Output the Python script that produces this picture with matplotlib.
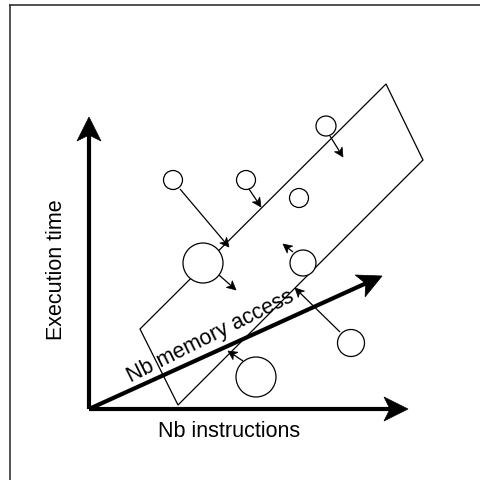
import numpy as np
import matplotlib.pyplot as plt
from matplotlib.patches import Circle, Polygon

# Diagram in pixel coordinates (y grows downward)
origin = (89, 410)
axis_tips = [(89, 118), (408, 410), (382, 277)]

# Rotated rectangle (cluster region)
rect_corners = [(140, 330), (386, 85), (423, 161), (178, 406)]

# Circles: centre x, centre y, radius
circle_x = [326, 173, 246, 299, 203, 303, 351, 256]
circle_y = [127, 181, 181, 199, 264, 264, 344, 378]
circle_r = [10, 9.5, 9.5, 9.5, 20, 13, 13.5, 20]

# Thin arrows: start -> end
arrow_start = [(330, 137), (180, 190), (249, 190), (219, 276), (293, 253), (340, 333), (243, 362)]
arrow_end = [(343, 158), (229, 248), (261, 208), (236, 291), (283, 245), (295, 289), (228, 352)]


def classic_arrow(ax, start, end, lw, head_len, head_w, notch, z):
    p0 = np.array(start, float)
    p1 = np.array(end, float)
    d = (p1 - p0) / np.linalg.norm(p1 - p0)
    n = np.array([-d[1], d[0]])
    back = p1 - d * head_len
    inner = p1 - d * (head_len - notch)
    ax.plot([p0[0], inner[0]], [p0[1], inner[1]], color='black', lw=lw,
            solid_capstyle='butt', zorder=z)
    head = [p1, back + n * head_w, inner, back - n * head_w]
    ax.add_patch(Polygon(head, closed=True, facecolor='black', edgecolor='black',
                         lw=0.5, zorder=z))


fig = plt.figure(figsize=(4.8, 4.81), dpi=100)
ax = fig.add_axes([0, 0, 1, 1])
ax.set_xlim(0, 480)
ax.set_ylim(481, 0)
ax.axis('off')

# frame lines (top and left only)
ax.plot([9.5, 480], [5.5, 5.5], color='#333333', lw=1.2)
ax.plot([9.5, 9.5], [5.5, 481], color='#333333', lw=1.2)

ax.add_patch(Polygon(rect_corners, closed=True, fill=False, edgecolor='black', lw=0.9, zorder=2))

for tip in axis_tips:
    classic_arrow(ax, origin, tip, 3, 24, 12, 6, 3)

for x, y, r in zip(circle_x, circle_y, circle_r):
    ax.add_patch(Circle((x, y), r, facecolor='white', edgecolor='black', lw=0.9, zorder=4))

for s, e in zip(arrow_start, arrow_end):
    classic_arrow(ax, s, e, 0.9, 9, 4.5, 2.5, 5)

font = 'Liberation Sans'
ax.text(56, 270, 'Execution time', rotation=90, ha='center', va='center', fontsize=15.5, family=font)
ax.text(229, 432, 'Nb instructions', ha='center', va='center', fontsize=15.5, family=font)
ax.text(211, 337, 'Nb memory access', rotation=26.5, ha='center', va='center', fontsize=15.5,
        family=font, rotation_mode='anchor', zorder=6)

fig.savefig('out.png', dpi=100)
